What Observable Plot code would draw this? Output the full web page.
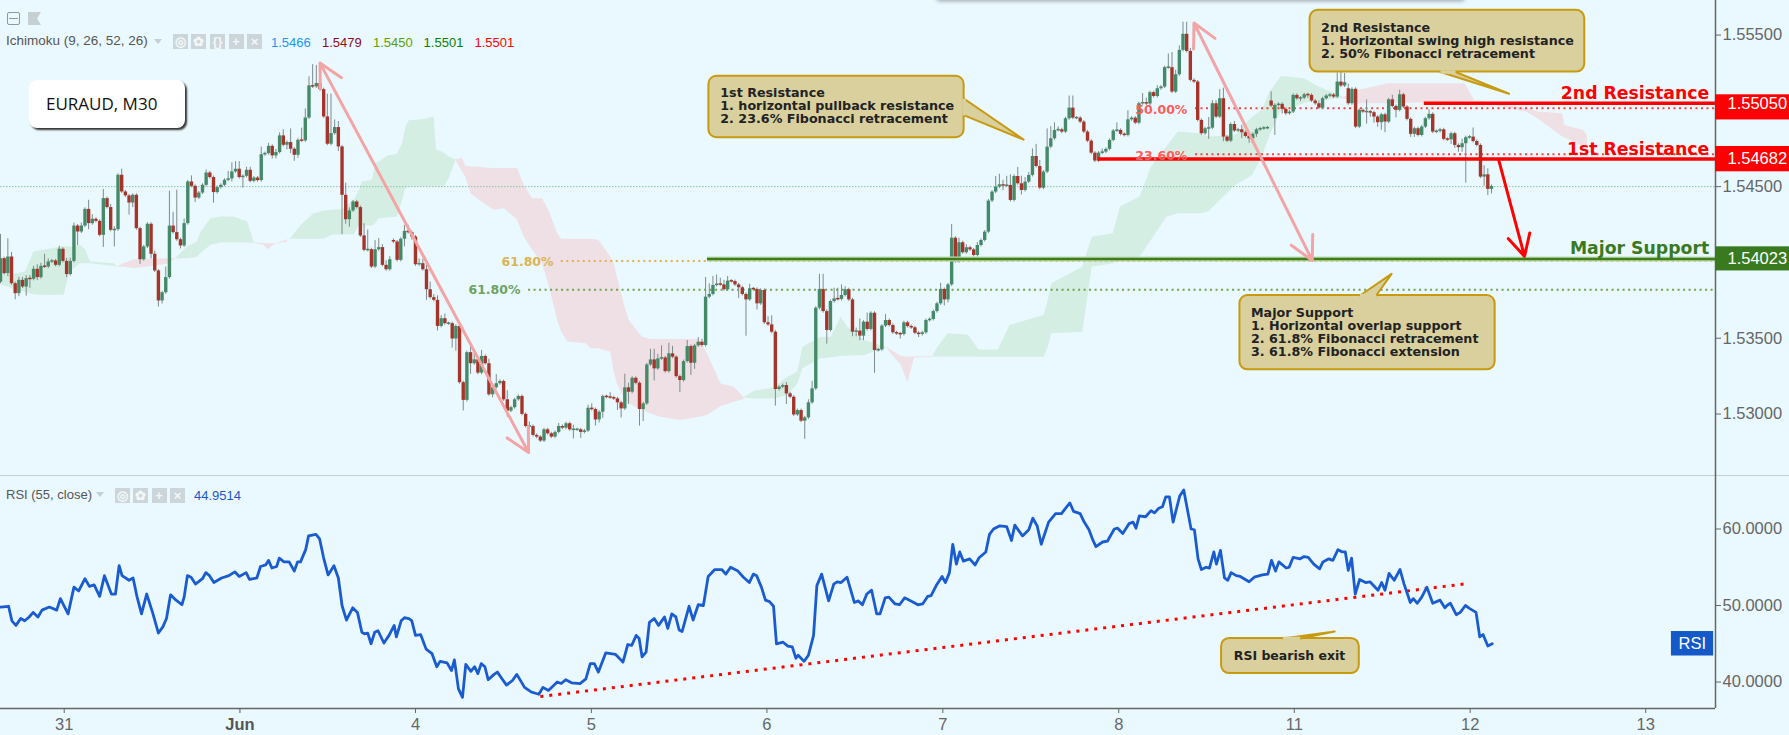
<!DOCTYPE html>
<html><head><meta charset="utf-8">
<script src="https://cdn.jsdelivr.net/npm/d3@7"></script>
<script src="https://cdn.jsdelivr.net/npm/@observablehq/plot@0.6"></script>
<style>
html,body{margin:0;padding:0;background:#eaf9ff;overflow:hidden}
#wrap{position:relative;width:1789px;height:735px;overflow:hidden;font-family:"Liberation Sans",Arial,sans-serif}
#wrap svg{display:block;background:transparent}
.t{position:absolute;white-space:nowrap;line-height:1}
.b{position:absolute;background:#ccd6da;color:#f4f7f8;text-align:center;font-size:13px;line-height:15px;font-weight:bold}
</style></head><body><div id="wrap"></div>
<script>
// Closing price of each M30 candle, in pips above 1.5000 (400 = 1.5400)
const closes=[402.5,392.6,403.6,386,379.4,388.2,383.8,389.3,388.9,395.5,390,397.4,397,400.3,401,398.1,408.7,400.7,392,400.7,424,420.1,424,435,425.6,428.5,427.1,417.9,442.1,436.2,421.2,421.6,457.5,446.5,443.9,439.2,444.3,422.3,401.8,410.2,425.2,405.4,394.4,374.6,380,390,424,419.7,415,410.9,425.6,453.1,450.2,442.5,445.8,450.9,459,456,446.1,449.4,450.9,454.2,455.1,459.7,461.5,456,456.8,460.8,453.5,455.7,454,471.1,471.8,476.6,470.3,472.5,483.5,477.3,479.1,474.7,470.7,480.6,480.2,495.3,516.5,515.8,518,514,496,478,485,489,476.2,444.3,428.2,434,439.9,436.2,417.5,408,408.4,397,408.4,409.8,398.1,395.2,401.8,413.5,401.4,415.3,420.5,419.7,416.8,398.5,399.2,395.2,382,376.8,375,357.8,362.9,359.6,359.6,349.5,357.8,320.7,309,340.5,333.2,335.8,327,338,333.2,312.7,317.4,320,321.5,309.4,301.9,304.2,309.4,311.6,299.8,291.8,291.8,285.9,284.8,282.2,289.6,287,284.8,287.9,291.8,290.7,293.6,289.6,289.6,289.6,287.9,288.8,
303.8,303,296.1,301.2,311.5,311.1,310.7,310,307.4,303.4,317.3,314.4,323.6,320.3,303,306.7,332.4,335.7,329.8,336.4,337,328,339.7,337.5,324.7,322.1,334.6,344.5,333.5,345,347.4,345.2,377.1,378.9,384.8,385.7,385.2,382,387.7,387.4,385.2,383.3,378.9,375.3,382.6,382.2,372.7,381.5,360.2,358.8,354,316.2,317.7,318.8,313.3,311.1,299.4,302.3,295.3,297.5,307.4,316.6,369.8,382.2,367.6,355.1,374.2,376,375.6,378.2,382,375.3,354,354.7,351.4,360.6,355.8,366.5,341.9,342.3,358,361.7,358.4,353.6,352.9,352.5,360.2,357.7,356.9,353.3,352.5,353.6,361.7,362.4,367.6,372.7,382.2,375.3,385.2,416,400.5,413,
406.4,409.7,408.3,404.6,411.2,414.5,420,440.5,446.4,449.7,451.2,450.4,450.8,440.9,456.7,451.9,447.5,453,457.4,469.9,463.3,449,459.6,476.1,481.6,487.1,487.5,486,494.8,501.8,495.2,495.2,492.6,486,480,472.1,466.9,472.1,472.8,474.6,480.5,486.7,487.1,484.5,483.8,494.1,495.2,491.9,504.7,505.4,504.5,512,509.5,514.6,515.7,528.5,528.5,512.4,523.8,539.9,550.5,539.2,520.1,519,493.7,484.9,488.2,488.6,504.7,495.9,508,482.7,480,491,486.7,487.5,485.6,483.1,481.6,484.5,487.5,
488.2,488.6,488.6,503.2,503.6,504.3,501,498.1,499.2,510.2,508,508.4,510.6,510.2,506.5,504.7,501.8,508,509.8,510.4,509.1,519,516.4,518.6,504.7,514.2,489.3,500.3,499.2,499.2,498.8,495.9,492.2,497.4,492.6,507.3,502.9,500.3,510.6,502.5,494.4,484.5,488.2,483.8,489.3,494.8,497.7,486,486.4,487.5,481.2,480.9,484.9,477.2,475.7,478.3,482.3,482.7,479.8,477.2,456.3,457.8,448.2,450.1];
// Candles whose open differs from the previous close: [bar, open]
const openGaps=[[0,387],[107,414.5],[346,506.5],[347,494.8],[367,514.6]];
// Upper and lower wick lengths, in pips
const wickUp=[16,1,12,3,1,2,2,2,2,2,3,2,8,2,1,1,2,1,2,2,2,1,2,1,6,3,1,1,6,1,2,2,1,4,1,1,1,1,1,1,1,1,2,1,1,7,23,9,28,1,3,1,4,1,1,1,2,1,1,1,1,1,5,6,5,5,1,2,2,1,1,5,1,2,1,2,2,4,1,9,1,1,
8,6,6,14,12,1,1,15,26,5,4,1,8,2,1,1,1,8,13,1,6,6,2,3,2,1,1,1,4,4,1,1,3,3,3,5,2,3,2,3,1,1,1,1,1,1,6,4,1,4,1,3,1,6,1,1,6,1,1,1,1,1,3,1,1,1,1,1,1,1,2,1,1,1,3,1,1,1,
2,3,1,1,1,1,3,1,1,1,9,3,1,1,1,1,1,7,7,3,8,1,7,5,1,1,1,4,1,1,3,2,13,7,6,6,4,3,3,1,1,1,1,1,3,1,1,1,1,4,6,1,1,1,2,1,1,1,1,1,2,5,1,10,10,1,1,7,7,7,2,1,1,2,8,1,6,1,1,1,1,4,1,1,1,1,1,1,1,1,1,1,1,1,1,1,4,1,1,9,
1,3,1,2,1,1,2,1,1,1,1,7,7,3,6,7,1,6,5,3,2,5,8,4,1,12,8,5,2,1,1,8,8,1,1,1,1,1,1,1,2,1,1,1,5,1,1,6,1,1,1,6,3,1,1,2,1,1,9,10,3,3,8,8,2,1,1,1,1,7,2,2,6,7,1,1,2,1,3,1,1,1,1,1,1,1,
6,1,1,1,1,1,1,1,1,1,1,1,1,2,1,1,1,1,6,7,6,3,1,1,1,1,8,1,1,1,1,1,1,3,1,3,1,1,1,1,1,1,1,3,1,1,1,1,1,1,1,1,3,1,1,6,1,1,6,4,1];
const wickDown=[1,1,2,1,4,2,1,6,6,1,2,1,1,1,1,1,1,1,2,1,1,9,1,1,4,1,1,1,8,1,1,11,1,1,1,8,3,1,3,1,1,3,1,4,2,1,1,1,1,2,1,1,1,3,1,1,1,1,7,1,1,1,1,2,1,1,7,1,1,1,1,1,1,1,2,2,1,1,3,3,4,2,
1,1,1,1,1,1,1,1,1,1,3,26,3,5,1,1,1,1,1,1,1,1,1,1,1,1,1,1,5,1,2,1,1,1,7,1,1,3,1,1,1,6,8,1,7,1,7,1,1,1,1,1,2,1,1,1,4,1,1,1,1,1,2,1,1,1,1,1,1,1,1,1,1,1,6,1,4,1,
1,1,4,2,4,1,1,1,5,6,1,8,1,1,11,8,1,1,8,1,1,1,1,1,1,8,1,1,8,4,1,1,1,1,1,1,1,1,1,1,1,7,1,24,1,1,4,1,1,1,1,11,1,1,7,1,1,1,1,12,1,1,1,1,1,9,1,1,1,1,1,1,3,3,3,3,1,1,15,1,1,1,1,1,1,3,1,1,1,1,2,1,1,1,1,1,1,4,2,1,
1,1,1,1,1,1,1,1,1,1,1,1,1,3,1,1,1,1,3,1,1,1,1,1,1,1,1,1,1,1,1,1,1,1,1,1,1,1,1,1,1,1,1,1,1,1,1,1,1,1,1,1,1,1,1,1,1,1,1,1,1,1,1,1,1,1,1,1,1,7,1,1,1,3,1,1,1,1,4,1,3,1,2,1,1,1,
1,11,1,3,1,1,1,1,2,1,2,1,1,1,1,1,1,1,1,1,1,1,1,1,1,1,8,3,4,3,5,7,1,1,5,1,1,1,2,2,1,1,1,1,1,1,1,1,1,3,2,3,3,26,1,1,1,1,6,4,3];
// RSI(55) trace: bar position and value
const rsiBar=[0,2.2,3.1,4.2,5.5,6.6,7.8,8.9,10.2,11.3,13.3,15.3,16.3,18.4,20,21.3,23,24.2,25.5,27,28.3,30.2,31.3,32.3,33.1,35,36.1,37.2,38.4,39.8,41.4,43,44.2,45.2,46.3,47.8,49.4,50,50.9,51.9,53.1,55,55.9,56.9,58.1,60.2,62.2,63.8,65,66.9,67.8,69.8,70.8,72.2,73,73.9,75.2,75.9,77.2,78.6,80,80.9,81.7,83.1,83.9,85.9,86.9,88,89.2,90.8,92,93,94.2,95.9,97.2,98.4,99.1,100,100.9,101.9,102.8,104.4,105.8,107.2,107.8,109.1,110,111.2,112,113,114.4,115.9,117.5,118.8,119.7,121.6,122.8,123.6,124.7,125.8,126.7,128.1,129.1,130,130.9,131.9,132.8,134.4,135.3,136.6,137.8,139.4,140.6,142.7,144.5,146.6,147.7,149.2,151.6,152.7,153.9,155.5,157.8,159.4,160.6,161.7,162.8,164.8,167.5,169.5,170.8,171.9,173.1,173.9,174.7,175.8,176.7,178,179.2,180.8,181.7,182.8,183.9,184.8,185.6,187.5,188.6,190,191.4,192.7,194.5,196.4,197.5,198.8,200.8,202.3,203.9,205,205.9,207.2,208.3,209.4,210.5,211.3,213.1,214.4,215.6,216.6,217.2,218.8,220,221.4,222.3,223.6,225.5,226.9,227.8,228.9,230.5,232.5,233.6,234.7,235.9,237.2,238.6,239.5,240.9,241.9,
243.6,244.8,246.2,248.3,249.8,251.1,252.5,253.4,254.8,256.4,257.3,258.4,259.3,260.3,261.2,262.2,263.9,265.4,266.4,268.3,269.3,270.4,272,274,275.3,276.2,278.3,280,281.1,282.3,283.4,285.4,287.3,288.9,290,291.2,292.2,294,295.1,296.4,297.5,298.3,300.1,301.4,303.3,304.2,305.6,307.3,308.4,309.2,310.1,311.8,313.3,314.2,315.4,316.4,317.3,318.3,319.3,321.1,322.2,322.9,324.2,325.1,326.1,327,328.3,329.2,330.4,331.1,332.2,333.3,334.2,335.1,336.5,337.6,340,341.4,343.6,345.1,346.1,347.2,348.1,350.1,350.9,352,353.9,355,356.1,357.6,359.2,360.1,361.7,362.8,364.2,365.4,366.2,367,367.9,368.9,370.1,371.7,372.9,375.1,376.1,377,378.1,379.5,381.1,382.2,383.9,384.7,385.8,387,388.4,390,392,393.3,393.9,394.8,396.4,397.5,398.9,400.1,401.8,402.8,403.7,405,406.2];
const rsiValue=[49.8,49.9,48,47.4,48.3,48,48.5,49.1,48.5,49.4,49.8,49.4,50.9,48.9,52.4,51.9,53.5,52.5,52.7,51.2,53.9,51.5,51.5,55.2,53.9,53.3,53.6,51.1,48.9,51.5,49.1,46.4,47.2,48.3,51.4,50.7,50.1,51.1,53.9,53.7,52.8,53.5,54.3,53.9,53,53.6,53.9,54.4,53.8,54.3,53.4,53.6,55.1,55.3,55.9,54.9,55.1,56.2,55.7,55.7,54.5,55.7,55.7,57.3,59.1,59.3,58.7,56.2,54,55.2,53.6,50,48.1,49.7,49.1,46.5,46.3,46.4,45,46.5,46.7,45.1,46.1,47.4,45.9,48,48.4,48.3,48,46.1,46.2,44.3,43.7,42,42.7,42.5,41.5,42.9,39.1,38,42.3,41.4,42,41.1,42.4,42,40.3,41,41.3,40.4,39.6,40.2,41,39.3,38.7,38.4,39.3,38.9,40,39.8,40.3,39.9,39.8,40.4,42.4,42.4,41.3,43.8,43.6,42.6,44.9,44.8,46.1,45.7,43.3,43.9,47.8,48.3,47.4,48.5,47,48.9,48.5,46.8,46.6,49.9,48.1,50.1,50,53.8,54.7,54.7,54.1,55,54.5,53.7,53,54.1,53.9,52.4,50.7,50.5,49.9,45,45.2,44.7,44.6,43.1,43.5,42.7,43.5,46.1,52.6,54.1,50.6,52.8,53.1,53,53.7,50.4,50.6,50.1,51.5,52,48.9,48.9,51,51.1,
50.2,50.1,51,50.5,50.1,50.2,51.2,51.3,52.6,53.8,53,54.3,58,55.4,57,55.8,56.1,55.3,56.2,57,59.3,60,60.4,60.3,58.5,60.5,59.1,59.9,61.4,60.4,58,60.9,62,62,62.7,63.4,62.3,62,60.9,59.9,58.5,57.7,58.3,58.4,60,60.1,59.4,60.7,60.9,60.1,61.7,61.6,62.4,62.1,62.7,62.9,64.2,64.2,60.9,64.3,65.1,63.3,60,59.9,56.1,54.7,55,54.9,57,55.4,57.2,53.6,53.3,54.3,53.9,53.8,53.1,53.7,54,54.1,55.9,54.5,55.7,54.9,55,56.3,56.1,56.4,56.3,55.4,54.8,55.7,56.1,55.9,57.3,57,57,54.6,56.2,51.5,53.4,53,53.1,52,53,52,54.2,53.3,54.7,52.8,50.4,50.9,50.3,51.1,52.4,50.3,50.7,49.7,50,50.3,48.8,49.1,50,49.6,49.1,45.9,46.2,44.7,45];
// Ichimoku cloud pieces: [bar, top pips, bottom pips]
const cloudGreen=[
[[0,391.5,385.3],[4.5,392.6,381.6],[6.8,393.7,380.5],[9.1,406.9,378.7],[11.8,408,378.3],[17.3,410.6,378.3],[18.6,410.2,390.4],[19.5,410.2,394.8],[21.8,411.3,399.2],[23.2,408,399.2],[24.5,400.3,399.2],[30.9,399.2,397.4],[31.8,397,396.8]],
[[47.7,402.5,402.3],[50.9,410.2,402.5],[53.6,413.5,403.2],[54.5,419.4,405.8],[57.3,428.9,411.3],[60,430,412.8],[63.6,430,412.8],[67.3,426.7,412.8],[69.1,412.8,412.6]],
[[78.6,415.2,415],[79,415.7,415.3],[82.2,425.2,415.3],[85.4,432.2,415.3],[88.1,434,415.3],[90.4,434.4,417.9],[93.1,434.8,418.3],[96.3,441,418.3],[97.6,446.5,424.1],[98.5,453.1,424.1],[101.3,454.2,424.1],[102.2,465.2,425.6],[103.1,466.3,428.9],[105.4,470,429.3],[108.1,471.4,430],[109.5,478.4,441],[110.4,489,448.7],[111.3,493.4,449.8],[114.9,494.2,449.8],[118.1,496,449.8],[118.7,474.4,449.8],[120.8,472.2,449.8],[122.2,469.6,455.3],[124,467.8,467.4]],
[[202.5,310.7,310.4],[205.3,315,310],[210.7,317.2,310],[214.4,324.3,312.2],[217.1,327.6,319.9],[218.5,344.1,329.8],[223.5,350.7,336.4],[226.2,350.7,337],[228.9,363.9,338.2],[230.7,357.3,338.2],[235.3,348.5,338.6],[241.2,344.1,343.7]],
[[253.9,338,337.5],[255.3,344.1,337.7],[258,352.9,337.7],[263.5,352.2,337.7],[266.5,342.3,337.5],[271.7,342.3,337.5],[274.9,358.4,337.5],[284.2,365,337.5],[285.3,374.9,344.1],[286.3,385.9,352.9],[294.7,396.9,354],[297.3,416.7,396.9],[303,418.9,399.1],[305,436.5,401.3],[310.3,443.1,403.5],[313.4,462.9,414.5],[317.6,476.1,429.9],[320.7,486,432.1],[326.7,484.9,432.1],[329,482.7,433.2],[336.3,483.8,450.8],[341,495.9,457.4],[343.6,500.3,469.5],[345.7,512.4,483.8],[348.8,522.7,500.3],[355.1,521.2,504.7],[358.2,516.8,506.9],[365.5,509.1,508]]];
const cloudPink=[
[[31.8,397,396.8],[33.6,399.2,397],[36.4,401.8,395.9],[45.5,402.5,398.8],[47.7,402.5,402.3]],
[[69.1,412.8,412.6],[71.8,412.4,411.3],[72.7,412.4,408.4],[75,412.4,412.2],[78.2,415,413.5]],
[[124,467.8,467.4],[125.8,468.5,459.7],[126.7,463.4,456.4],[128.1,463,445.4],[129.9,463,442.1],[131.7,462.3,438.8],[134.5,461.9,434.4],[137.2,461.9,435.5],[140.8,461.9,427.8],[142.6,450.9,416.8],[144.9,442.1,408],[147.6,442.1,399.2],[149.5,433.3,383.8],[151.7,419,361.8],[152.8,415.3,354.1],[154.5,415.3,347.5],[159.5,415.3,346.4],[160.8,415.3,343.1],[163,414.5,343],[166.2,403.5,340.8],[167.1,399.1,327.6],[168,390.3,319.9],[169.8,372.7,311.1],[171.2,361.7,306.7],[174.8,350.7,302.3],[177.1,349.2,300.1],[179.8,349.2,297.9],[185.3,349.2,295.7],[190.3,349.2,297.9],[192.5,339.7,299],[196.2,319.9,304.9],[199.8,317.7,307.8],[202.5,311.1,309.6]],
[[241.2,344.1,343.7],[245.3,338,332],[247.1,337.7,320.6],[248.9,337.7,337],[253.9,338,337.5]],
[[365.5,508.7,508.2],[369.6,513.5,504.7],[378,517.9,504.7],[398.8,517.9,505.8],[401.4,506.9,506.5],[415.5,501.4,499.2],[418.6,499.2,494.8],[425.4,498.1,482.7],[425.9,490.4,482.3],[431.1,487.1,476.1],[432.1,483.8,476.1]]];
// Date axis
const dayBars=[17.35,65.2,113,160.9,208.7,256.6,304.5,352.3,400.2,448];
const dayLabels=["31","Jun","4","5","6","7","8","11","12","13"];
const priceTicks=[1.53,1.535,1.545,1.555];
const rsiTicks=[40,50,60];
// Levels
const levelRed=[{bar:387.7,p:505,lab:"2nd Resistance",tag:"1.55050",top:510.6,bot:494},{bar:298.9,p:468.2,lab:"1st Resistance",tag:"1.54682",top:476.5,bot:459.8}];
const levelGreen={bar:192.5,p:402.3,lab:"Major Support",tag:"1.54023",top:410.3,bot:394.4};
const dottedLevels=[{bar:325.4,p:501.8,c:"#ff3f3f"},{bar:325.4,p:471.3,c:"#ff3f3f"},{bar:152.7,p:400.9,c:"#e0b24a"},{bar:143.8,p:382,c:"#6fa24e"}];
const fibLabels=[{bar:323.2,p:500.8,t:"50.00%",c:"#ff5c5c"},{bar:323.2,p:470.4,t:"23.60%",c:"#ff5c5c"},{bar:150.6,p:400,t:"61.80%",c:"#dcb454"},{bar:141.6,p:381.5,t:"61.80%",c:"#6fa35f"}];
// Callouts
const boxes=[{x1:192.9,x2:262.4,p1:482.3,p2:522.8},{x1:356.6,x2:431.4,p1:525.6,p2:566.3},{x1:337.5,x2:407,p1:329.2,p2:378.2}];
const tails=[[[262.4,508],[278.6,481],[262.4,497]],[[392.1,525.6],[410.8,511.3],[396.2,525.6]],[[370.2,378.2],[378.8,392.5],[374.6,378.2]]];
const notes=[{bar:196,p:511.8,t:"1st Resistance"},{bar:196,p:503.2,t:"1. horizontal pullback resistance"},{bar:196,p:494.9,t:"2. 23.6% Fibonacci retracement"},
{bar:359.6,p:554.9,t:"2nd Resistance"},{bar:359.6,p:546.3,t:"1. Horizontal swing high resistance"},{bar:359.6,p:537.8,t:"2. 50% Fibonacci retracement"},
{bar:340.5,p:366.8,t:"Major Support"},{bar:340.5,p:358.2,t:"1. Horizontal overlap support"},{bar:340.5,p:349.6,t:"2. 61.8% Fibonacci retracement"},{bar:340.5,p:341,t:"3. 61.8% Fibonacci extension"}];
const swingArrows=[{a:[87,531.5],b:[143.8,274.6]},{a:[325,557.9],b:[357.2,401.3]}];
const targetArrow={x1:408,p1:467.3,x2:415,p2:404};

const px=p=>1.5+p/1e4;
const gap=new Map(openGaps);
const bars=closes.map((c,i)=>{
  const o=gap.has(i)?gap.get(i):closes[i-1];
  const hi=Math.max(o,c),lo=Math.min(o,c),pad=hi-lo<1?(1-(hi-lo))/2:0;
  return {i,up:c>=o,top:px(hi+pad),bot:px(lo-pad),high:px(hi+(wickUp[i]??1)),low:px(lo-(wickDown[i]??1))};
});
const cloudRows=(pieces)=>pieces.flatMap((s,k)=>s.map(([bar,t,b])=>({k,bar,t:px(t),b:px(b)})));
const BOX="#d9d09e",EDGE="#c79a10",XMAX=467,XEND=487.2,AX="#666";
const ff="DejaVu Sans",fa="Liberation Sans";
const tailRows=tails.flatMap((t,k)=>t.map(([bar,p])=>({k,bar,p:px(p)})));
const arrowRows=swingArrows.flatMap(({a,b})=>{const m=[(a[0]+b[0])/2,(a[1]+b[1])/2];return [a,b].map(e=>({x1:m[0],y1:px(m[1]),x2:e[0],y2:px(e[1])}));});

const pricePlot=Plot.plot({width:1789,height:476,marginLeft:0,marginRight:74,marginTop:0,marginBottom:0,
 style:{background:"transparent"},
 x:{domain:[0,XMAX],axis:null},y:{domain:[1.52588,1.55728],axis:null},
 marks:[
  Plot.areaY(cloudRows(cloudGreen),{x:"bar",y1:"b",y2:"t",z:"k",fill:"#d4eee3"}),
  Plot.areaY(cloudRows(cloudPink),{x:"bar",y1:"b",y2:"t",z:"k",fill:"#eee0e4"}),
  Plot.ruleY([1.545],{x1:0,x2:XMAX,stroke:"#8cc2a6",strokeWidth:1,strokeDasharray:"1.5 1.5"}),
  ...dottedLevels.map(d=>Plot.ruleY([px(d.p)],{x1:d.bar,x2:XMAX,stroke:d.c,strokeWidth:2,strokeDasharray:"2 3.5"})),
  Plot.ruleX(bars,{x:"i",y1:"low",y2:"high",stroke:"#7f8a8b",strokeWidth:1}),
  Plot.ruleX(bars.filter(d=>d.up),{x:"i",y1:"bot",y2:"top",stroke:"#458a68",strokeWidth:3.4}),
  Plot.ruleX(bars.filter(d=>!d.up),{x:"i",y1:"bot",y2:"top",stroke:"#a5352a",strokeWidth:3.4}),
  Plot.ruleY(levelRed,{y:d=>px(d.p),x1:"bar",x2:XMAX,stroke:"#ff0000",strokeWidth:3.5}),
  Plot.ruleY([levelGreen],{y:d=>px(d.p),x1:"bar",x2:XMAX,stroke:"#bcd9b5",strokeWidth:5}),
  Plot.ruleY([levelGreen],{y:d=>px(d.p),x1:"bar",x2:XMAX,stroke:"#3f7d17",strokeWidth:2.5}),
  Plot.text(fibLabels,{x:"bar",y:d=>px(d.p),text:"t",fill:"c",textAnchor:"end",fontFamily:ff,fontSize:12.5,fontWeight:"600"}),
  Plot.arrow(arrowRows,{x1:"x1",y1:"y1",x2:"x2",y2:"y2",stroke:"#f3a4a4",strokeWidth:3,headLength:13,headAngle:55,inset:0}),
  Plot.arrow([targetArrow],{x1:"x1",y1:d=>px(d.p1),x2:"x2",y2:d=>px(d.p2),stroke:"#ff0000",strokeWidth:3,headLength:12,headAngle:55,inset:0}),
  Plot.rect(boxes,{x1:"x1",x2:"x2",y1:d=>px(d.p1),y2:d=>px(d.p2),fill:BOX,stroke:EDGE,strokeWidth:2,rx:8}),
  Plot.line(tailRows,{x:"bar",y:"p",z:"k",fill:BOX,stroke:EDGE,strokeWidth:2}),
  Plot.link(tails.map(t=>({a:t[0],b:t[2]})),{x1:d=>d.a[0],y1:d=>px(d.a[1]),x2:d=>d.b[0],y2:d=>px(d.b[1]),stroke:BOX,strokeWidth:3.5}),
  Plot.text(notes,{x:"bar",y:d=>px(d.p),text:"t",textAnchor:"start",fontFamily:ff,fontSize:12.7,fontWeight:"bold",fill:"#222"}),
  Plot.ruleX([XMAX],{stroke:AX,strokeWidth:1.5}),
  Plot.ruleY([1.52588],{x1:0,x2:XEND,stroke:"#555",strokeWidth:1.5}),
  Plot.axisY({anchor:"right",ticks:priceTicks,tickFormat:d=>d.toFixed(5),tickSize:5,tickPadding:2,fontSize:16.5,fontFamily:fa,color:AX,label:null,textAnchor:"start"}),
  Plot.rect(levelRed,{x1:XMAX,x2:XEND,y1:d=>px(d.bot),y2:d=>px(d.top),fill:"#ff0000"}),
  Plot.rect([levelGreen],{x1:XMAX,x2:XEND,y1:d=>px(d.bot),y2:d=>px(d.top),fill:"#3a7a1f"}),
  Plot.text([...levelRed,levelGreen],{x:XEND-0.7,y:d=>px(d.p),text:"tag",fill:"#fff",textAnchor:"end",fontFamily:fa,fontSize:16.5}),
  Plot.text(levelRed,{x:465.3,y:d=>px(d.p+6.4),text:"lab",fill:"#ff0000",textAnchor:"end",fontFamily:ff,fontWeight:"bold",fontSize:17.3}),
  Plot.text([levelGreen],{x:465.3,y:d=>px(d.p+6.9),text:"lab",fill:"#3a7a1f",textAnchor:"end",fontFamily:ff,fontWeight:"bold",fontSize:17.3})
 ]});

const rsiRows=rsiBar.map((bar,i)=>({bar,v:rsiValue[i]}));
const rsiPlot=Plot.plot({width:1789,height:259,marginLeft:0,marginRight:74,marginTop:0,marginBottom:27,
 style:{background:"transparent"},
 x:{domain:[0,XMAX],axis:null},y:{domain:[36.54,66.86],axis:null},
 marks:[
  Plot.line([{x:147,v:38.1},{x:398.4,v:52.8}],{x:"x",y:"v",stroke:"#ff0000",strokeWidth:3,strokeDasharray:"3 6",strokeLinecap:"butt"}),
  Plot.line(rsiRows,{x:"bar",y:"v",stroke:"#1a5ccf",strokeWidth:2.8}),
  Plot.rect([{x1:332.5,x2:370,a:41.1,b:45.7}],{x1:"x1",x2:"x2",y1:"a",y2:"b",fill:BOX,stroke:EDGE,strokeWidth:2,rx:8}),
  Plot.line([{x:349.2,v:45.7},{x:363.3,v:46.6},{x:353.9,v:45.7}],{x:"x",y:"v",fill:BOX,stroke:EDGE,strokeWidth:2}),
  Plot.link([{x1:349.2,x2:353.9,v:45.7}],{x1:"x1",x2:"x2",y1:"v",y2:"v",stroke:BOX,strokeWidth:3.5}),
  Plot.text([{x:351,v:43.4,t:"RSI bearish exit"}],{x:"x",y:"v",text:"t",fill:"#222",fontFamily:ff,fontSize:12.5,fontWeight:"bold"}),
  Plot.ruleX([XMAX],{y1:36.54,y2:66.86,stroke:AX,strokeWidth:1.5}),
  Plot.ruleY([36.54],{x1:0,x2:XMAX,stroke:AX,strokeWidth:1.5}),
  Plot.axisY({anchor:"right",ticks:rsiTicks,tickFormat:d=>d.toFixed(4),tickSize:5,tickPadding:2,fontSize:16.5,fontFamily:fa,color:AX,label:null,textAnchor:"start"}),
  Plot.axisX({anchor:"bottom",ticks:dayBars.filter((d,i)=>i!==1),tickFormat:d=>dayLabels[dayBars.indexOf(d)],tickSize:5,tickPadding:5,fontSize:16.5,fontFamily:fa,color:AX,label:null}),
  Plot.axisX({anchor:"bottom",ticks:[dayBars[1]],tickFormat:d=>dayLabels[dayBars.indexOf(d)],tickSize:5,tickPadding:5,fontSize:16.5,fontFamily:fa,color:"#555",fontWeight:"bold",label:null}),
  Plot.rect([{x1:455,x2:466.5,a:43.4,b:46.6}],{x1:"x1",x2:"x2",y1:"a",y2:"b",fill:"#1558c8"}),
  Plot.text([{x:460.7,v:45,t:"RSI"}],{x:"x",y:"v",text:"t",fill:"#fff",fontFamily:fa,fontSize:16.5})
 ]});

const w=document.getElementById("wrap");w.append(pricePlot,rsiPlot);
const add=(html)=>w.insertAdjacentHTML("beforeend",html);
add(`<div class="t" style="left:937px;top:-6px;width:527px;height:6px;background:#fff;box-shadow:0 1px 4px rgba(0,0,0,.35)"></div>`);
add(`<div class="t" style="left:7px;top:12px;width:11px;height:11px;border:1px solid #8a9a9e;border-radius:2px"><div style="margin:5px 1px 0;height:1px;background:#8a9a9e"></div></div>`);
add(`<div class="t" style="left:28px;top:12px;width:13px;height:13px;background:#c6cfd2;clip-path:polygon(0 0,100% 0,70% 50%,100% 100%,0 100%)"></div>`);
add(`<div class="t" style="left:6px;top:34px;font-size:13.5px;color:#555">Ichimoku (9, 26, 52, 26)</div>`);
add(`<div class="t" style="left:154px;top:39px;width:0;height:0;border:4px solid transparent;border-top:5px solid #c6cfd2"></div>`);
[[173,"◎"],[191,"✿"],[210,"{}"],[228.5,"+"],[247,"×"]].forEach(([x,g])=>add(`<div class="b" style="left:${x}px;top:34px;width:15px;height:15px">${g}</div>`));
[[271,"1.5466","#2196f3"],[322,"1.5479","#8b0a1e"],[373,"1.5450","#5da000"],[423.6,"1.5501","#0a8000"],[474.5,"1.5501","#ff0000"]].forEach(([x,t,c])=>add(`<div class="t" style="left:${x}px;top:36px;font-size:13px;color:${c}">${t}</div>`));
add(`<div class="t" style="left:29px;top:80px;width:156px;height:48px;background:#fff;border-radius:8px;box-shadow:2px 2px 2px #333"></div>`);
add(`<div class="t" style="left:46px;top:95px;font-family:'Open Sans';font-size:17px;color:#111">EURAUD, M30</div>`);
add(`<div class="t" style="left:6px;top:488px;font-size:13px;color:#555">RSI (55, close)</div>`);
add(`<div class="t" style="left:96px;top:492px;width:0;height:0;border:4px solid transparent;border-top:5px solid #c6cfd2"></div>`);
[[115,"◎"],[133,"✿"],[151.5,"+"],[170,"×"]].forEach(([x,g])=>add(`<div class="b" style="left:${x}px;top:488px;width:15px;height:15px">${g}</div>`));
add(`<div class="t" style="left:194px;top:489px;font-size:13px;color:#1c55c8">44.9514</div>`);
</script></body></html>
